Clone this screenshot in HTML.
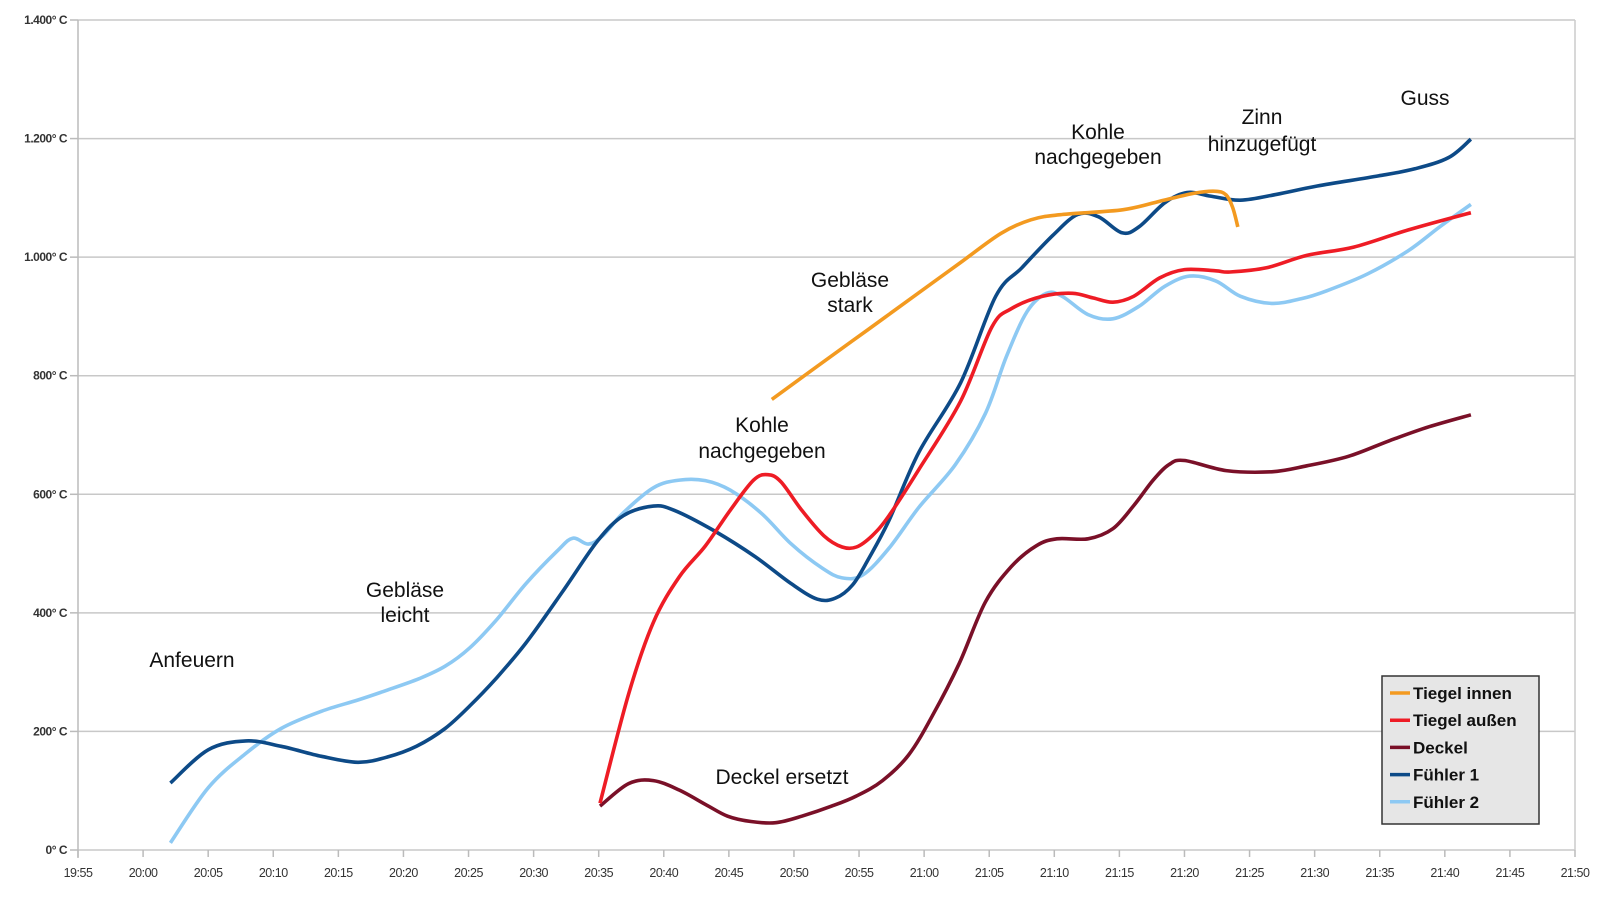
<!DOCTYPE html>
<html><head><meta charset="utf-8"><style>
html,body{margin:0;padding:0;background:#fff;}
svg{display:block;font-family:"Liberation Sans",sans-serif;}
</style></head><body>
<svg id="chart" width="1600" height="897" viewBox="0 0 1600 897">
<g id="grid"></g>
<g id="axes"></g>
<g id="series"></g>
<g id="notes" font-size="21" fill="#111" text-anchor="middle">
<text x="192" y="667">Anfeuern</text>
<text x="405" y="597">Gebläse</text>
<text x="405" y="622">leicht</text>
<text x="762" y="432">Kohle</text>
<text x="762" y="458">nachgegeben</text>
<text x="850" y="287">Gebläse</text>
<text x="850" y="312">stark</text>
<text x="1098" y="139">Kohle</text>
<text x="1098" y="164">nachgegeben</text>
<text x="1262" y="124">Zinn</text>
<text x="1262" y="151">hinzugefügt</text>
<text x="1425" y="105">Guss</text>
<text x="782" y="784">Deckel ersetzt</text>
</g>
<g id="legend"></g>
</svg>
<script>
const yTicks=[0,200,400,600,800,1000,1200,1400];
const yTickLabels=["0° C","200° C","400° C","600° C","800° C","1.000° C","1.200° C","1.400° C"];
const xTicks=[-5,0,5,10,15,20,25,30,35,40,45,50,55,60,65,70,75,80,85,90,95,100,105,110];
const xTickLabels=["19:55","20:00","20:05","20:10","20:15","20:20","20:25","20:30","20:35","20:40","20:45","20:50","20:55","21:00","21:05","21:10","21:15","21:20","21:25","21:30","21:35","21:40","21:45","21:50"];
const seriesNames=["Tiegel innen","Tiegel außen","Deckel","Fühler 1","Fühler 2"];
const seriesColors=["#f39a20","#ee1c25","#7a1028","#0d4a87","#8dc9f3"];
const innenT=[48.3,51.8,55.7,59.6,62.8,65.9,68.2,70.6,75.3,78.4,80.8,82.4,83.2,83.7,84.1];
const innenV=[760,816,878,940,991,1040,1063,1072,1080,1096,1108,1111,1105,1084,1051];
const aussenT=[35.1,37.3,39.2,41.2,43.2,45.1,46.9,48,49,50.6,52.3,53.7,54.8,56,57.3,59.6,62.8,65.2,66.7,69.1,71.4,73,74.5,76.1,78.1,80,82.4,83.5,86.3,89.4,93,97.2,102];
const aussenV=[79,263,384,461,513,573,624,633,621,573,530,511,511,530,564,642,757,882,913,934,939,931,924,934,965,979,977,975,982,1003,1017,1046,1075];
const deckelT=[35.1,37.3,39.2,41.2,43.2,44.9,46.7,48.6,50.6,52.9,54.8,56.8,58.8,60.7,62.7,64.7,66.7,68.6,70.2,72.6,74.5,76.1,77.6,78.8,80,83.2,86.7,89.4,92.6,95.7,98.8,102];
const deckelV=[74,112,117,101,77,57,48,46,57,74,91,117,160,229,315,418,478,513,525,525,542,581,624,650,657,640,638,648,664,690,714,734];
const f1T=[2.1,5,7.9,10.6,13.7,16.5,18.8,21,23.2,25.1,27.1,29.4,32.2,34.9,36.9,39.2,40.8,43.9,47,49.8,51.8,53.2,54.5,55.7,57.3,59.6,62.8,65.5,67.5,69.9,71.8,73.4,75.2,76.5,78.5,80.2,82,84.3,87.1,90.2,94.9,97.7,100.3,102];
const f1V=[113,169,184,175,158,148,157,175,205,243,289,349,435,521,564,580,573,538,495,449,423,425,447,490,556,671,788,934,982,1037,1072,1068,1041,1051,1092,1109,1103,1096,1106,1120,1137,1149,1168,1199];
const f2T=[2.1,5,7.9,10.6,13.7,16.5,18.8,21.2,23.2,25.1,27.1,29.4,31.8,33,34.2,35.3,36.9,39.2,41.2,43.2,45.1,47.5,49.8,52.2,53.7,55.3,57.3,59.6,62.4,64.7,66.3,67.9,69.4,70.6,72.6,74.5,76.5,78.5,80.4,82.4,84.3,86.7,89,90.9,94.1,97.2,99.6,102];
const f2V=[12,105,163,205,234,253,270,289,310,341,387,449,504,526,516,530,569,611,624,623,607,568,516,475,459,464,509,578,650,736,831,908,939,934,903,896,917,951,968,960,934,922,930,943,972,1011,1051,1089];

const X0=78,X1=1575,Y0=850,Y1=20;
function xs(t){return X0+(t+5)*(X1-X0)/115;}
function ys(v){return Y0-v*(Y0-Y1)/1400;}
const NS="http://www.w3.org/2000/svg";
function mk(tag,attrs,parent){const e=document.createElementNS(NS,tag);for(const k in attrs)e.setAttribute(k,attrs[k]);parent.appendChild(e);return e;}
const grid=document.getElementById('grid'),axes=document.getElementById('axes');
yTicks.forEach((v,i)=>{
  const l=mk('line',{x1:X0,x2:X1,y1:ys(v),y2:ys(v),stroke:'#c8c8c8','stroke-width':1.5},grid);
  
  
  const tk=mk('line',{x1:X0-8,x2:X0,y1:ys(v),y2:ys(v),stroke:'#bbb','stroke-width':1.5},axes);
  
  
  const t=mk('text',{x:67,y:ys(v)+4,'text-anchor':'end','font-size':12,'font-weight':'bold',fill:'#333','letter-spacing':'-0.5'},axes);
  t.textContent=yTickLabels[i];
  
  
});
const ax=mk('line',{x1:X0,x2:X0,y1:Y1,y2:Y0+8,stroke:'#bbb','stroke-width':1.5},axes);


const axr=mk('line',{x1:X1,x2:X1,y1:Y1,y2:Y0,stroke:'#ccc','stroke-width':1.5},axes);


xTicks.forEach((m,i)=>{
  const tk=mk('line',{x1:xs(m),x2:xs(m),y1:Y0,y2:Y0+7,stroke:'#bbb','stroke-width':1.5},axes);
  
  
  const t=mk('text',{x:xs(m),y:Y0+27,'text-anchor':'middle','font-size':12.5,fill:'#333','letter-spacing':'-0.5'},axes);
  t.textContent=xTickLabels[i];
  
  
});
function smooth(T,V){
  const p=T.map((t,i)=>[xs(t),ys(V[i])]);
  let d='M'+p[0][0].toFixed(1)+' '+p[0][1].toFixed(1);
  for(let i=0;i<p.length-1;i++){
    const a=p[i-1]||p[i],b=p[i],c=p[i+1],e=p[i+2]||c;
    const c1=[b[0]+(c[0]-a[0])/6,b[1]+(c[1]-a[1])/6],c2=[c[0]-(e[0]-b[0])/6,c[1]-(e[1]-b[1])/6];
    d+=' C'+c1[0].toFixed(1)+' '+c1[1].toFixed(1)+' '+c2[0].toFixed(1)+' '+c2[1].toFixed(1)+' '+c[0].toFixed(1)+' '+c[1].toFixed(1);
  }
  return d;
}
const ser=document.getElementById('series');
const data=[[innenT,innenV],[aussenT,aussenV],[deckelT,deckelV],[f1T,f1V],[f2T,f2V]];
const order=[4,3,2,1,0];
const sNames=['line-tiegel-innen','line-tiegel-aussen','line-deckel','line-fuehler-1','line-fuehler-2'];
order.forEach(i=>{
  const p=mk('path',{d:smooth(data[i][0],data[i][1]),fill:'none',stroke:seriesColors[i],'stroke-width':3.6,'stroke-linejoin':'round'},ser);
  
  
});
const lg=document.getElementById('legend');
const box=mk('rect',{x:1382,y:676,width:157,height:148,fill:'#e6e6e6',stroke:'#333','stroke-width':1.5},lg);


seriesNames.forEach((n,i)=>{
  const y=693+i*27.2;
  const l=mk('line',{x1:1390,x2:1410,y1:y,y2:y,stroke:seriesColors[i],'stroke-width':3.5},lg);
  
  
  const t=mk('text',{x:1413,y:y+6,'font-size':17,'font-weight':'bold',fill:'#111'},lg);
  t.textContent=n;
  
  
});
</script>
</body></html>
